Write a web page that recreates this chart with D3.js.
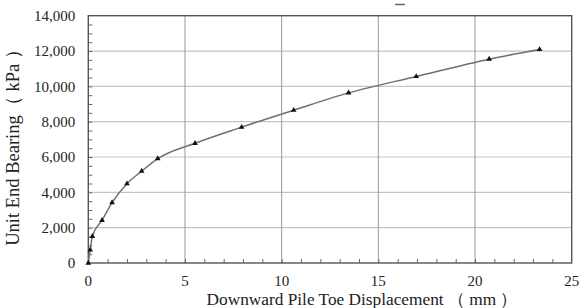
<!DOCTYPE html>
<html>
<head>
<meta charset="utf-8">
<script src="https://cdn.jsdelivr.net/npm/d3@7"></script>
<style>
	body { margin: 0; background: #fff; }
</style>
</head>
<body>
<svg id="chart" width="579" height="308"></svg>
<script>
// 데이터
const displacement = [0, 0.1, 0.21, 0.71, 1.23, 2.0, 2.76, 3.59, 5.52, 7.93, 10.62, 13.46, 16.96, 20.73, 23.34];
const bearing = [0, 740, 1510, 2420, 3420, 4490, 5200, 5910, 6780, 7690, 8650, 9630, 10560, 11540, 12090];
const xTicks = [0, 5, 10, 15, 20, 25];
const yTicks = [0, 2000, 4000, 6000, 8000, 10000, 12000, 14000];
const xTitle = "Downward Pile Toe Displacement （ mm ）";
const yTitle = "Unit End Bearing（ kPa ）";

const data = displacement.map((d, i) => ({ x: d, y: bearing[i] }));

const FONT = "'Liberation Serif', 'DejaVu Serif', serif";

const svg = d3.select("#chart");
const margin = { top: 15.7, right: 7.3, bottom: 45, left: 88.3 };
const width = +svg.attr("width") - margin.left - margin.right;
const height = +svg.attr("height") - margin.top - margin.bottom;

const g = svg.append("g").attr("transform", `translate(${margin.left},${margin.top})`);

const x = d3.scaleLinear().domain([0, 25]).range([0, width]);
const y = d3.scaleLinear().domain([0, 14000]).range([height, 0]);

// 가로 그리드
g.append("g")
	.selectAll("line")
	.data(yTicks.slice(1, -1))
	.enter().append("line")
	.attr("x1", 0).attr("x2", width)
	.attr("y1", d => y(d)).attr("y2", d => y(d))
	.style("stroke", "#c4c4c4")
	.style("stroke-width", 1.2);

// 세로 그리드
g.append("g")
	.selectAll("line")
	.data(xTicks.slice(1, -1))
	.enter().append("line")
	.attr("x1", d => x(d)).attr("x2", d => x(d))
	.attr("y1", 0).attr("y2", height)
	.style("stroke", "#9a9a9a")
	.style("stroke-width", 1);

// 보조 눈금 (안쪽)
g.append("g")
	.call(d3.axisBottom(x).tickValues(d3.range(1, 25)).tickSize(-4).tickFormat(""))
	.attr("transform", `translate(0,${height})`)
	.call(a => a.select(".domain").remove())
	.selectAll("line").style("stroke", "#666");

g.append("g")
	.call(d3.axisLeft(y).tickValues(d3.range(500, 14000, 500)).tickSize(-4).tickFormat(""))
	.call(a => a.select(".domain").remove())
	.selectAll("line").style("stroke", "#666");

// 테두리
g.append("rect")
	.attr("width", width)
	.attr("height", height)
	.style("fill", "none")
	.style("stroke", "#555")
	.style("stroke-width", 1.4);

// 눈금 라벨
g.append("g")
	.selectAll("text")
	.data(xTicks)
	.enter().append("text")
	.attr("x", d => x(d))
	.attr("y", height + 23)
	.attr("text-anchor", "middle")
	.style("font-family", FONT)
	.style("font-size", "15px")
	.style("fill", "#222")
	.text(d => d);

g.append("g")
	.selectAll("text")
	.data(yTicks)
	.enter().append("text")
	.attr("x", -13)
	.attr("y", d => y(d))
	.attr("dy", "0.35em")
	.attr("text-anchor", "end")
	.style("font-family", FONT)
	.style("font-size", "15px")
	.style("fill", "#222")
	.text(d => d3.format(",")(d));

// 곡선
const line = d3.line()
	.x(d => x(d.x))
	.y(d => y(d.y))
	.curve(d3.curveMonotoneX);

g.append("path")
	.datum(data)
	.attr("d", line)
	.style("fill", "none")
	.style("stroke", "#707070")
	.style("stroke-width", 1.5);

// 삼각형 마커
g.selectAll(".pt")
	.data(data)
	.enter().append("path")
	.attr("class", "pt")
	.attr("transform", d => `translate(${x(d.x)},${y(d.y)})`)
	.attr("d", d3.symbol().type(d3.symbolTriangle).size(14))
	.style("fill", "#111");

// 축 제목
svg.append("text")
	.attr("x", 362)
	.attr("y", 305)
	.attr("text-anchor", "middle")
	.style("font-family", FONT)
	.style("font-size", "17.3px")
	.style("fill", "#222")
	.text(xTitle);

svg.append("text")
	.attr("transform", `translate(19,143) rotate(-90)`)
	.attr("text-anchor", "middle")
	.style("font-family", FONT)
	.style("font-size", "18.5px")
	.style("fill", "#222")
	.text(yTitle);

// 잘린 제목 흔적
svg.append("line")
	.attr("x1", 395).attr("x2", 405)
	.attr("y1", 4.5).attr("y2", 4.5)
	.style("stroke", "#666")
	.style("stroke-width", 1.5);
</script>
</body>
</html>
